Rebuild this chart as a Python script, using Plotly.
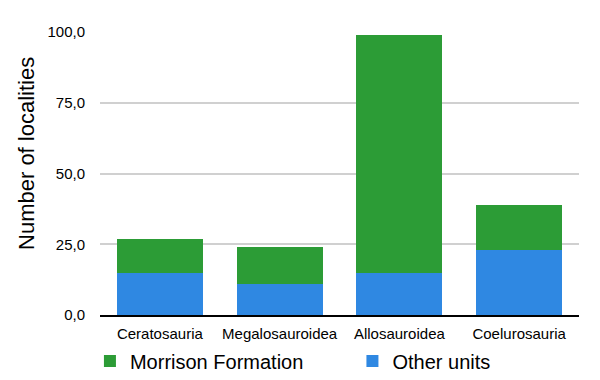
import plotly.graph_objects as go

categories = ["Ceratosauria", "Megalosauroidea", "Allosauroidea", "Coelurosauria"]
other_units = [15, 11, 15, 23]
morrison = [12, 13, 84, 16]
tick_vals = [0, 25, 50, 75, 100]
y_title = "Number of localities"

fig = go.Figure()
fig.add_trace(go.Bar(x=categories, y=other_units, name="Other units", legend="legend2",
                     marker=dict(color="#2f88e2", line=dict(width=0))))
fig.add_trace(go.Bar(x=categories, y=morrison, name="Morrison Formation", legend="legend",
                     marker=dict(color="#2c9c36", line=dict(width=0))))

leg_common = dict(orientation="h", yref="container", y=0.071, yanchor="middle",
                  xanchor="left", font=dict(size=20), bgcolor="rgba(0,0,0,0)")

fig.add_annotation(text=y_title, textangle=-90, xref="paper", yref="paper",
                   x=-0.1524, y=0.569, xanchor="center", yanchor="middle",
                   showarrow=False, font=dict(size=22))

fig.update_layout(
    width=600, height=380,
    barmode="stack", bargap=0.28,
    separators=",.",
    paper_bgcolor="white", plot_bgcolor="white",
    font=dict(family="Liberation Sans, Arial, sans-serif", color="black"),
    margin=dict(l=92, r=29, t=24, b=73, autoexpand=False),
    showlegend=True,
    legend=dict(x=-0.021, **leg_common),
    legend2=dict(x=0.527, **leg_common),
    xaxis=dict(showline=True, linecolor="black", linewidth=1.5,
               tickfont=dict(size=15), ticks="", ticklabelstandoff=4),
    yaxis=dict(range=[0, 100], tickvals=tick_vals, tickformat=".1f",
               showgrid=True, gridcolor="#d0d0d0", gridwidth=1.5,
               zeroline=False, tickfont=dict(size=15), ticks="", ticklabelstandoff=14),
)
fig.write_html("out.html")
